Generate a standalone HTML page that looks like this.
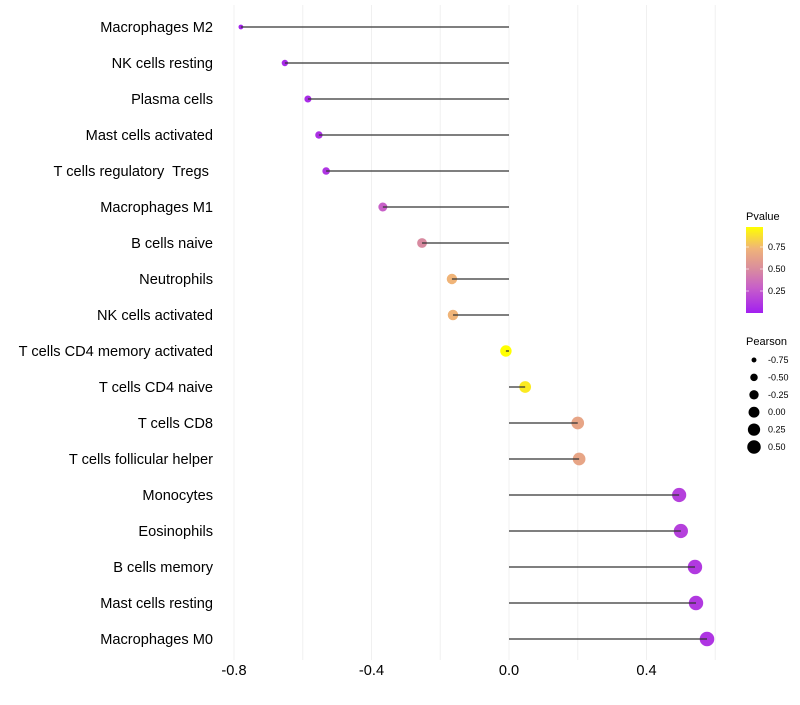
<!DOCTYPE html>
<html><head><meta charset="utf-8"><style>
body{margin:0;background:#fff;font-family:"Liberation Sans",sans-serif}
text{white-space:pre}
</style></head><body>
<svg id="c" width="800" height="700" xmlns="http://www.w3.org/2000/svg"></svg>
<script>
const categories=["Macrophages M2","NK cells resting","Plasma cells","Mast cells activated","T cells regulatory  Tregs ","Macrophages M1","B cells naive","Neutrophils","NK cells activated","T cells CD4 memory activated","T cells CD4 naive","T cells CD8","T cells follicular helper","Monocytes","Eosinophils","B cells memory","Mast cells resting","Macrophages M0"];
const pearson=[-0.78,-0.652,-0.585,-0.553,-0.532,-0.367,-0.253,-0.166,-0.163,-0.009,0.047,0.2,0.204,0.495,0.5,0.541,0.544,0.576];
const pvalues=[0.02,0.05,0.06,0.08,0.1,0.3,0.5,0.75,0.75,1.0,0.93,0.66,0.66,0.15,0.15,0.12,0.12,0.1];
const xTicks=[-0.8,-0.4,0.0,0.4];
const gridTicks=[-0.8,-0.6,-0.4,-0.2,0,0.2,0.4,0.6];
const pLegend=[0.25,0.5,0.75];
const sizeLegend=[-0.75,-0.5,-0.25,0,0.25,0.5];
const NS="http://www.w3.org/2000/svg",svg=document.getElementById('c');
const x=v=>509+v*343.75, y=i=>27+i*36;
const r=v=>Math.sqrt(Math.max(2.5,33+35*v));
const stops=[[0,[162,31,240]],[0.3,[200,96,200]],[0.5,[216,138,160]],[0.75,[240,180,120]],[1,[255,255,0]]];
function col(p){for(let i=1;i<stops.length;i++){if(p<=stops[i][0]){const a=stops[i-1],b=stops[i],t=(p-a[0])/(b[0]-a[0]);return 'rgb('+a[1].map((c,k)=>Math.round(c+(b[1][k]-c)*t)).join(',')+')';}}return 'rgb(255,255,0)';}
function el(t,a,txt){const e=document.createElementNS(NS,t);for(const k in a)e.setAttribute(k,a[k]);if(txt!=null)e.textContent=txt;svg.appendChild(e);return e;}
gridTicks.forEach(v=>{const g=el('line',{x1:x(v),x2:x(v),y1:5,y2:660,stroke:'#f0f0f0','stroke-width':1});

});
xTicks.forEach(v=>{const t=el('text',{x:x(v),y:675,'text-anchor':'middle','font-size':14.6,fill:'#000'},v.toFixed(1));

});
categories.forEach((c,i)=>{
const t=el('text',{x:213,y:y(i)+5,'text-anchor':'end','font-size':14.6,fill:'#000'},c);


const p=el('circle',{cx:x(pearson[i]),cy:y(i),r:r(pearson[i]),fill:col(pvalues[i])});


const l=el('line',{x1:x(0),x2:x(pearson[i]),y1:y(i),y2:y(i),stroke:'#333','stroke-width':1.3});


});
const defs=el('defs',{});
const lg=document.createElementNS(NS,'linearGradient');lg.setAttribute('id','g');lg.setAttribute('x1',0);lg.setAttribute('y1',1);lg.setAttribute('x2',0);lg.setAttribute('y2',0);defs.appendChild(lg);
stops.forEach(s=>{const st=document.createElementNS(NS,'stop');st.setAttribute('offset',s[0]);st.setAttribute('stop-color','rgb('+s[1].join(',')+')');lg.appendChild(st);});
const pt=el('text',{x:746,y:220,'font-size':11},'Pvalue');


const cb=el('rect',{x:746,y:227,width:17,height:86,fill:'url(#g)'});


pLegend.forEach(p=>{const yy=313-p*88;
el('line',{x1:746,x2:749,y1:yy,y2:yy,stroke:'#fff','stroke-opacity':0.6});el('line',{x1:760,x2:763,y1:yy,y2:yy,stroke:'#fff','stroke-opacity':0.6});
const t=el('text',{x:768,y:yy+3,'font-size':9},p.toFixed(2));

});
const st=el('text',{x:746,y:345,'font-size':11},'Pearson');


sizeLegend.forEach((v,i)=>{const yy=360+i*17.4;
const c=el('circle',{cx:754,cy:yy,r:r(v)*0.95,fill:'#000'});


const t=el('text',{x:768,y:yy+3,'font-size':9},v.toFixed(2));

});
</script>
</body></html>
